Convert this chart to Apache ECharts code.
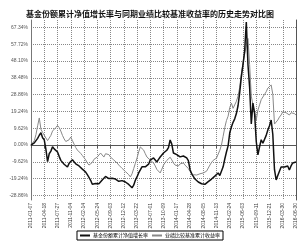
<!DOCTYPE html>
<html>
<head>
<meta charset="utf-8">
<script src="https://cdn.jsdelivr.net/npm/echarts@6/dist/echarts.min.js"></script>
<style>
  html, body { margin: 0; padding: 0; background: #fff; }
  #chart { width: 300px; height: 242px; }
</style>
</head>
<body>
<div id="chart"></div>
<script>
// x-axis tick labels (one every 8 points)
const tickLabels = [
    '2011-01-07', '2011-04-18', '2011-07-27', '2011-11-04', '2012-02-14',
    '2012-05-24', '2012-09-03', '2012-12-12', '2013-03-22', '2013-07-01',
    '2013-10-09', '2014-01-17', '2014-04-28', '2014-08-05', '2014-11-13',
    '2015-02-24', '2015-06-03', '2015-09-11', '2015-12-21', '2016-03-30',
    '2016-06-30'
];

const yTicks = [-28.86, -19.24, -9.62, 0, 9.62, 19.24, 28.86, 38.48, 48.10, 57.72, 67.34];

// 基金份额累计净值增长率 (%)
const fundNav = [
    0, -0.8, 1.2, 0.5, 3.8, 5.6, 7.0, 4.2,
    3.0, -2.5, -9.5, -5.0, -3.5, -1.0, -2.2, -3.0,
    -4.0, -6.5, -8.8, -9.5, -11.0, -11.8, -12.6, -10.5,
    -9.7, -8.5, -9.0, -10.8, -11.5, -12.0, -13.0, -13.8,
    -14.3, -15.5, -17.0, -18.5, -20.2, -22.5, -23.2, -22.0,
    -21.0, -22.2, -21.8, -20.0, -19.0, -18.0, -18.3, -19.2,
    -20.0, -19.0, -18.3, -19.5, -20.0, -20.8, -21.0, -20.4,
    -20.0, -21.2, -22.0, -22.6, -23.0, -24.5, -23.0, -20.2,
    -18.3, -16.0, -14.3, -12.5, -11.5, -12.5, -13.0, -11.0,
    -8.6, -8.0, -7.4, -8.5, -9.7, -8.2, -6.9, -5.8,
    -4.6, -3.8, -3.0, -1.5, 2.9, 0.5, -4.6, -5.2,
    -5.5, -6.0, -6.8, -6.5, -6.3, -7.0, -7.4, -9.0,
    -14.0, -16.5, -18.0, -19.5, -20.5, -21.2, -21.8, -22.2,
    -23.0, -22.5, -21.5, -21.0, -20.3, -19.5, -18.5, -17.8,
    -16.8, -16.0, -17.5, -17.0, -12.5, -8.0, -4.0, -0.5,
    7.0, 10.3, 13.0, 15.0, 18.0, 22.5, 30.0, 39.0,
    46.0, 54.0, 70.5, 46.0, 33.0, 12.0, 24.0, 18.0,
    2.0, -5.7, -1.0, 3.0, 1.0, 2.0, 5.5, 8.6,
    11.0, 14.3, 6.0, -14.0, -20.0, -17.5, -15.0, -12.6,
    -13.5, -12.6, -11.5, -12.0, -14.3, -12.0, -10.3, -11.0,
    -9.7
];

// 业绩比较基准累计收益率 (%)
const benchmark = [
    0, 1.0, 2.5, 6.0, 11.0, 15.5, 9.0, 7.2,
    6.5, 4.0, 2.5, 4.0, 5.5, 8.0, 9.0, 10.0,
    11.2, 10.0, 8.0, 5.5, 3.5, 2.0, 1.0, 3.0,
    4.6, 2.5, 0.5, -1.5, -2.9, -4.0, -4.8, -6.0,
    -7.0, -8.5, -10.3, -11.5, -12.6, -10.0, -8.2, -7.5,
    -6.9, -5.8, -4.6, -5.5, -6.9, -5.0, -4.0, -5.5,
    -6.9, -7.8, -8.6, -9.5, -10.3, -11.5, -12.6, -13.4,
    -14.3, -15.2, -16.0, -17.0, -18.3, -16.5, -13.5, -10.5,
    -7.5, -4.0, -1.1, -2.0, -2.9, -5.0, -6.9, -7.8,
    -8.6, -9.5, -10.3, -12.0, -14.0, -15.0, -16.0, -13.8,
    -11.5, -10.0, -8.8, -8.0, -7.0, -8.5, -10.3, -11.5,
    -12.3, -12.0, -10.8, -10.3, -10.3, -11.5, -12.6, -13.5,
    -15.2, -16.3, -17.0, -17.2, -17.2, -17.0, -16.5, -16.0,
    -16.0, -15.5, -15.0, -14.0, -11.5, -10.0, -8.8, -8.0,
    -7.5, -6.5, -3.0, 0.0, 5.0, 10.0, 14.0, 16.5,
    21.5, 24.0, 21.0, 22.0, 25.0, 28.0, 33.0, 41.0,
    47.0, 52.0, 57.5, 61.0, 46.0, 28.0, 23.0, 19.0,
    14.3, 20.0, 23.0, 26.0, 27.0, 29.0, 30.5, 32.6,
    33.5, 34.4, 29.0, 12.0, 11.0, 14.3, 16.0, 17.2,
    19.0, 20.0, 18.5, 18.3, 17.2, 18.5, 19.0, 18.0,
    17.2
];

const categories = fundNav.map((_, i) => (i % 8 === 0 ? tickLabels[i / 8] : 'p' + i));

const chart = echarts.init(document.getElementById('chart'));

const option = {
    animation: false,
    title: {
        text: '基金份额累计净值增长率与同期业绩比较基准收益率的历史走势对比图',
        left: 'center',
        top: 5,
        textStyle: { fontSize: 8, fontWeight: 'bold', color: '#111', fontFamily: 'Noto Sans CJK SC' }
    },
    legend: {
        bottom: 2,
        left: 'center',
        itemWidth: 10,
        itemHeight: 2,
        itemGap: 4,
        padding: [2, 3],
        borderColor: '#000',
        borderWidth: 1,
        icon: 'rect',
        textStyle: { fontSize: 5, color: '#000', fontFamily: 'Noto Sans CJK SC', padding: [0, 0, 0, -2] },
        data: ['基金份额累计净值增长率', '业绩比较基准累计收益率']
    },
    grid: {
        left: 31,
        right: 4,
        top: 20,
        bottom: 42
    },
    xAxis: {
        type: 'category',
        data: categories,
        boundaryGap: false,
        axisLine: { lineStyle: { color: '#555', width: 1 } },
        axisTick: { interval: 7, length: 3, lineStyle: { color: '#555' } },
        axisLabel: {
            interval: 7,
            rotate: 90,
            fontSize: 5,
            color: '#444',
            margin: 3
        },
        splitLine: { show: true, interval: 7, lineStyle: { color: '#888', type: [1, 1], width: 1 } }
    },
    yAxis: [
        {
            type: 'value',
            min: -31.5,
            max: 71.6,
            axisLine: { show: true, lineStyle: { color: '#777', width: 1 } },
            axisTick: { show: false, customValues: yTicks },
            axisLabel: {
                customValues: yTicks,
                fontSize: 5,
                color: '#555',
                margin: 3,
                formatter: v => v.toFixed(2) + '%'
            },
            splitLine: { show: true, lineStyle: { color: '#888', type: [1, 1], width: 1 } }
        },
        {
            type: 'value',
            position: 'right',
            min: -31.5,
            max: 71.6,
            axisLine: { show: true, lineStyle: { color: '#555', width: 1 } },
            axisTick: { show: false },
            axisLabel: { show: false },
            splitLine: { show: false }
        }
    ],
    series: [
        {
            name: '基金份额累计净值增长率',
            type: 'line',
            data: fundNav,
            symbol: 'none',
            lineStyle: { color: '#111', width: 1.5 },
            itemStyle: { color: '#111' },
            z: 3
        },
        {
            name: '业绩比较基准累计收益率',
            type: 'line',
            data: benchmark,
            symbol: 'none',
            lineStyle: { color: '#888', width: 1 },
            itemStyle: { color: '#888' },
            z: 2
        }
    ]
};

option && chart.setOption(option);
window.addEventListener('resize', chart.resize);
</script>
</body>
</html>
